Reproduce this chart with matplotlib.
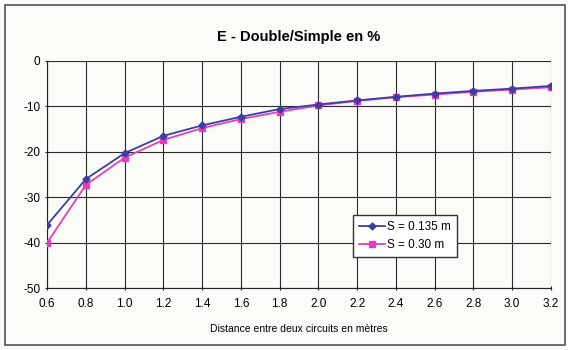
import matplotlib
matplotlib.use("Agg")
import matplotlib.pyplot as plt
from matplotlib.patches import Rectangle

distances = [0.6, 0.8, 1.0, 1.2, 1.4, 1.6, 1.8, 2.0, 2.2, 2.4, 2.6, 2.8, 3.0, 3.2]
s_0135 = [-36.1, -26.0, -20.3, -16.5, -14.2, -12.3, -10.6, -9.6, -8.7, -7.9, -7.2, -6.6, -6.1, -5.5]
s_030 = [-40.0, -27.3, -21.3, -17.4, -14.8, -12.8, -11.2, -9.8, -8.8, -8.0, -7.4, -6.8, -6.3, -5.8]
x_ticks = ["0.6", "0.8", "1.0", "1.2", "1.4", "1.6", "1.8", "2.0", "2.2", "2.4", "2.6", "2.8", "3.0", "3.2"]
y_ticks = [0, -10, -20, -30, -40, -50]

plt.rcParams['font.family'] = ['Liberation Sans', 'DejaVu Sans']
plt.rcParams['axes.unicode_minus'] = False

fig = plt.figure(figsize=(5.68, 3.5), dpi=100, facecolor='#fbfbf7')
fig.patches.append(Rectangle((0.008, 0.015), 0.986, 0.97, transform=fig.transFigure,
                             fill=False, edgecolor='#555555', linewidth=1.2))
ax = fig.add_axes([0.083, 0.177, 0.887, 0.649])
ax.set_facecolor('#fbfbf7')

ax.plot(distances, s_0135, color='#3b3fa0', marker='D', markersize=3.5, linewidth=1.3,
        label='S = 0.135 m', zorder=4)
ax.plot(distances, s_030, color='#e23fbf', marker='s', markersize=4.5, linewidth=1.3,
        label='S = 0.30 m', zorder=3)

ax.set_xlim(0.6, 3.2)
ax.set_ylim(-50, 0)
ax.set_xticks(distances)
ax.set_xticklabels(x_ticks)
ax.set_yticks(y_ticks)
ax.grid(True, color='#2a2a2a', linewidth=0.8)
for s in ['top', 'right']:
    ax.spines[s].set_visible(False)
for s in ['left', 'bottom']:
    ax.spines[s].set_color('#222222')
ax.tick_params(axis='both', labelsize=8.5, color='#222222', length=3, direction='inout')
ax.tick_params(axis='x', pad=6)

ax.set_title('E - Double/Simple en %', fontsize=10.5, fontweight='bold', pad=14)
ax.set_xlabel('Distance entre deux circuits en mètres', fontsize=7.5, labelpad=10)

leg = ax.legend(loc='lower left', bbox_to_anchor=(0.595, 0.11), fontsize=8.5, frameon=True,
                fancybox=False, edgecolor='#333333', framealpha=1, facecolor='white',
                handlelength=2.2, borderpad=0.5, labelspacing=0.5, handletextpad=0.2)
leg.get_frame().set_linewidth(1.0)

fig.savefig('out.png', dpi=100, facecolor=fig.get_facecolor())
